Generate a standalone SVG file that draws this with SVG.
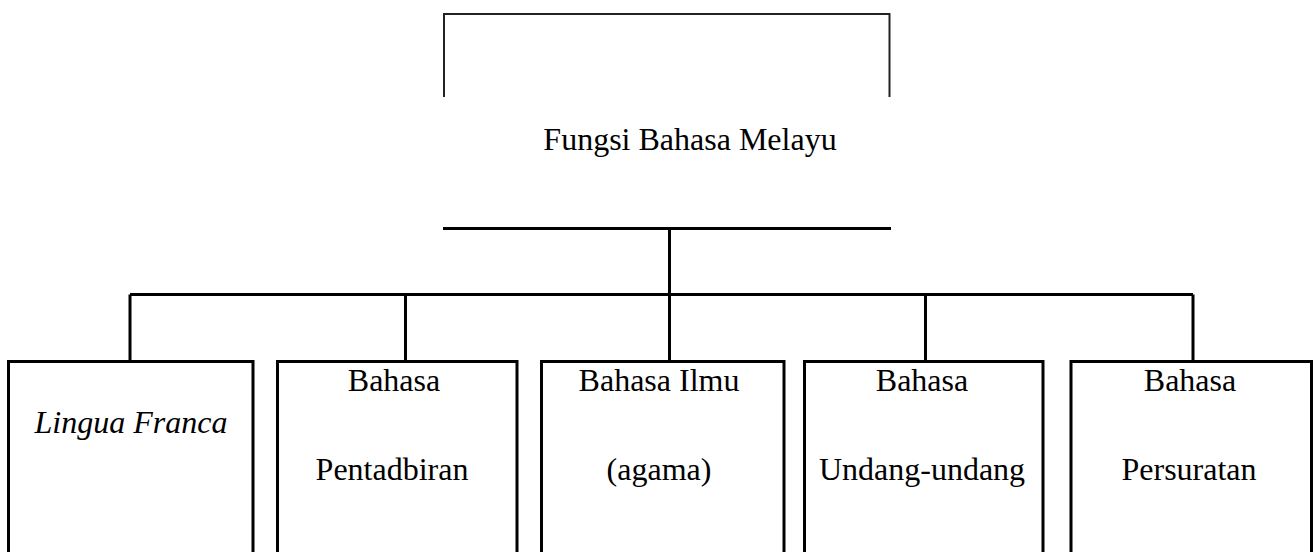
<svg xmlns="http://www.w3.org/2000/svg" width="1316" height="552" viewBox="0 0 1316 552">
<style>
.t{font-family:"Liberation Serif","Times New Roman",serif;font-size:32px;fill:#000;text-anchor:middle}
.it{font-style:italic}
.box{fill:#fff;stroke:#000;stroke-width:3}
.ln{stroke:#000;stroke-width:3;fill:none}
.thin{stroke:#222;stroke-width:2;fill:none}
</style>
<rect width="1316" height="552" fill="#fff"/>
<g id="root">
<path class="thin" d="M444,97 V14 H889.5 V97"/>
<text class="t" x="690" y="150">Fungsi Bahasa Melayu</text>
<line class="ln" x1="443" y1="228.5" x2="891" y2="228.5"/>
</g>
<g id="connectors">
<line class="ln" x1="669.5" y1="228.5" x2="669.5" y2="294.5"/>
<line class="ln" x1="130" y1="294.5" x2="1193" y2="294.5"/>
<line class="ln" x1="130" y1="294.5" x2="130" y2="361.5"/>
<line class="ln" x1="405.5" y1="294.5" x2="405.5" y2="361.5"/>
<line class="ln" x1="669.5" y1="294.5" x2="669.5" y2="361.5"/>
<line class="ln" x1="925.5" y1="294.5" x2="925.5" y2="361.5"/>
<line class="ln" x1="1193" y1="294.5" x2="1193" y2="361.5"/>
</g>
<g id="node1">
<rect class="box" x="8.5" y="361.5" width="244.5" height="200"/>
<text class="t it" x="131" y="433">Lingua Franca</text>
</g>
<g id="node2">
<rect class="box" x="277.5" y="361.5" width="239.5" height="200"/>
<text class="t" x="394" y="391">Bahasa</text>
<text class="t" x="392" y="480">Pentadbiran</text>
</g>
<g id="node3">
<rect class="box" x="541.5" y="361.5" width="242.5" height="200"/>
<text class="t" x="659" y="391">Bahasa Ilmu</text>
<text class="t" x="659" y="480">(agama)</text>
</g>
<g id="node4">
<rect class="box" x="804.5" y="361.5" width="238.5" height="200"/>
<text class="t" x="922" y="391">Bahasa</text>
<text class="t" x="922" y="480">Undang-undang</text>
</g>
<g id="node5">
<rect class="box" x="1071" y="361.5" width="240.5" height="200"/>
<text class="t" x="1190" y="391">Bahasa</text>
<text class="t" x="1189" y="480">Persuratan</text>
</g>
</svg>
